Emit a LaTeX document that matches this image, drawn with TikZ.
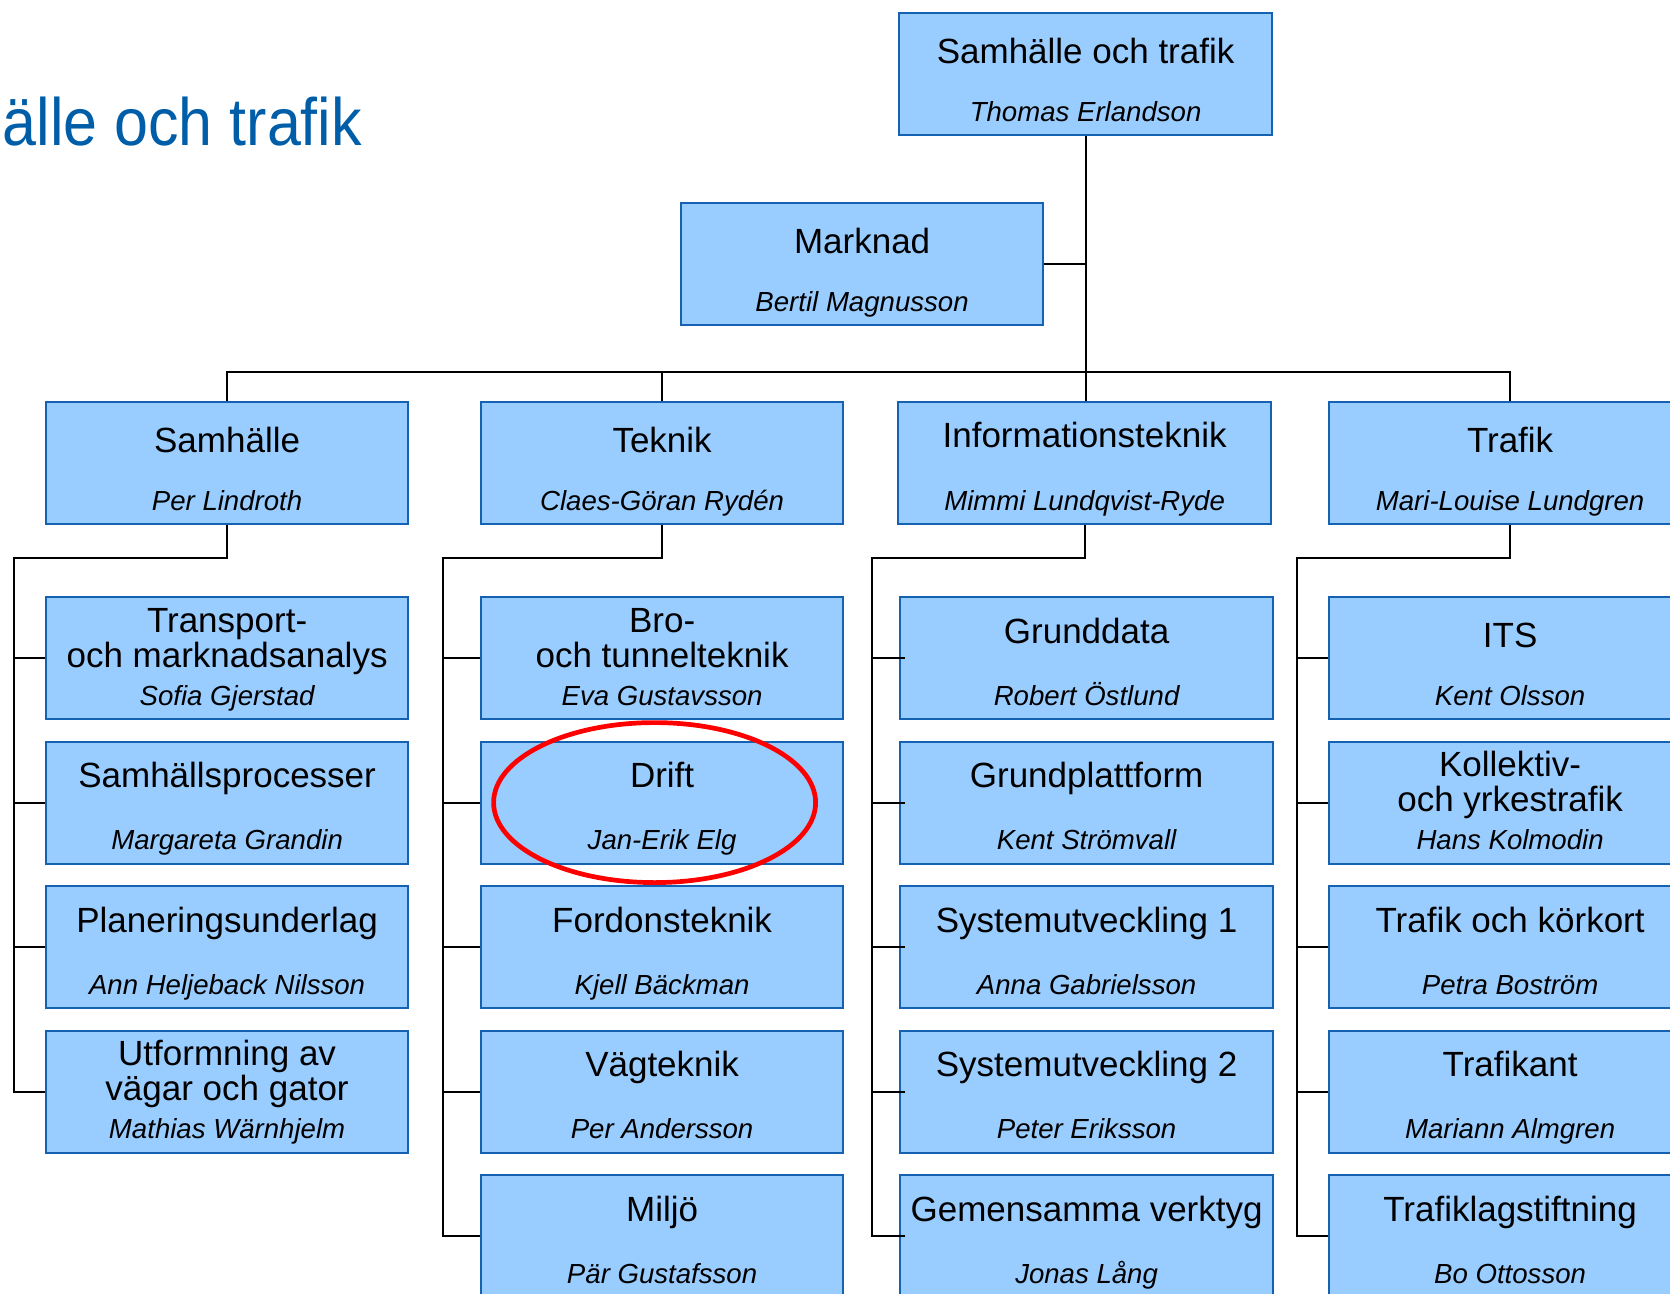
\documentclass[tikz,border=0pt]{standalone}
\usepackage{fontspec}
\setmainfont{Liberation Sans}
\newfontfamily\headfont[FakeStretch=0.91]{Liberation Sans}
\definecolor{unitfill}{RGB}{153,204,255}
\definecolor{unitline}{RGB}{22,98,178}
\definecolor{headblue}{RGB}{0,94,168}
% box text: name line, then person in italics
\newcommand\ut[3][23pt]{\parbox[c][61pt][t]{178pt}{\centering
	\fontsize{17.5pt}{17.5pt}\selectfont\rule{0pt}{#1}#2\par\vfill
	\fontsize{13.8pt}{14pt}\selectfont\itshape #3\rule[-7pt]{0pt}{7pt}\par}}
\tikzset{unit/.style={draw=unitline, fill=unitfill, line width=1.1pt, anchor=north west,
		minimum width=181pt, minimum height=61pt, inner sep=0pt},
	wide/.style={minimum width=186.5pt}}
\begin{document}
\begin{tikzpicture}[x=0.5pt, y=-0.5pt, line width=1pt]
	\useasboundingbox (0,0) rectangle (1670,1294);
	\node[anchor=base east, inner sep=0pt, text=headblue, font=\headfont\fontsize{33.5pt}{34pt}\selectfont] (head) at (363,146) {Samhälle och trafik};
	\node[unit, wide] (st) at (898,12) {\ut[25pt]{Samhälle och trafik}{Thomas Erlandson}};
	\node[unit] (mk) at (680,202) {\ut[25pt]{Marknad}{Bertil Magnusson}};
	\node[unit] (sam) at (45,401) {\ut[25pt]{Samhälle}{Per Lindroth}};
	\node[unit] (tek) at (480,401) {\ut[25pt]{Teknik}{Claes-Göran Rydén}};
	\node[unit, wide] (inf) at (897,401) {\ut[22.5pt]{Informationsteknik}{Mimmi Lundqvist-Ryde}};
	\node[unit] (trf) at (1328,401) {\ut[25pt]{Trafik}{Mari-Louise Lundgren}};
	% enheter
	\foreach \r/\txt in {1/{\ut[17.5pt]{Transport-\\och marknadsanalys}{Sofia Gjerstad}},
		2/{\ut{Samhällsprocesser}{Margareta Grandin}}, 3/{\ut{Planeringsunderlag}{Ann Heljeback Nilsson}},
		4/{\ut[17.5pt]{Utformning av\\vägar och gator}{Mathias Wärnhjelm}}}
		\node[unit] (sam\r) at (45,{451.5+144.5*\r}) {\txt};
	\foreach \r/\txt in {1/{\ut[17.5pt]{Bro-\\och tunnelteknik}{Eva Gustavsson}},
		2/{\ut{Drift}{Jan-Erik Elg}}, 3/{\ut{Fordonsteknik}{Kjell Bäckman}},
		4/{\ut{Vägteknik}{Per Andersson}}, 5/{\ut{Miljö}{Pär Gustafsson}}}
		\node[unit] (tek\r) at (480,{451.5+144.5*\r}) {\txt};
	\foreach \r/\txt in {1/{\ut{Grunddata}{Robert Östlund}}, 2/{\ut{Grundplattform}{Kent Strömvall}},
		3/{\ut{Systemutveckling 1}{Anna Gabrielsson}}, 4/{\ut{Systemutveckling 2}{Peter Eriksson}},
		5/{\ut{Gemensamma verktyg}{Jonas Lång}}}
		\node[unit, wide] (inf\r) at (899,{451.5+144.5*\r}) {\txt};
	\foreach \r/\txt in {1/{\ut[25pt]{ITS}{Kent Olsson}}, 2/{\ut[17.5pt]{Kollektiv-\\och yrkestrafik}{Hans Kolmodin}},
		3/{\ut{Trafik och körkort}{Petra Boström}}, 4/{\ut{Trafikant}{Mariann Almgren}},
		5/{\ut{Trafiklagstiftning}{Bo Ottosson}}}
		\node[unit] (trf\r) at (1328,{451.5+144.5*\r}) {\txt};
	% lines
	\draw (st.south) -- (st.south |- inf.north);
	\draw (mk.east) -- (mk.east -| st.south);
	\draw (sam.north) -- ++(0,-29) -| (trf.north);
	\draw (tek.north) -- ++(0,-29);
	\foreach \r in {1,...,4} \draw (sam.south) -- ++(0,33) -| ([xshift=-15.5pt]sam\r.west) -- (sam\r.west);
	\foreach \r in {1,...,5} \draw (tek.south) -- ++(0,33) -| ([xshift=-18.5pt]tek\r.west) -- (tek\r.west);
	\foreach \r in {1,...,5} \draw (inf.south) -- ++(0,33) -| ([xshift=-13.5pt]inf\r.west) -- ([xshift=3pt]inf\r.west);
	\foreach \r in {1,...,5} \draw (trf.south) -- ++(0,33) -| ([xshift=-15.5pt]trf\r.west) -- (trf\r.west);
	\draw[red, line width=2.35pt] ([xshift=-3.75pt]tek2.center) ellipse [x radius=161, y radius=80];
\end{tikzpicture}
\end{document}
